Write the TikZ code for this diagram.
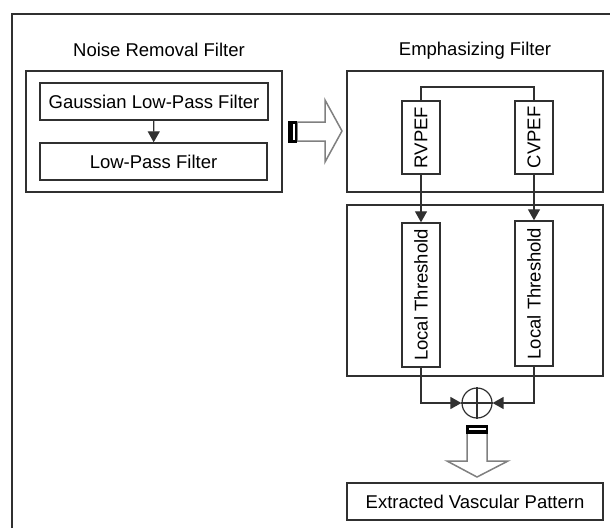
\documentclass[tikz,border=0pt]{standalone}
\usepackage{fontspec}
\setmainfont{Liberation Sans}
\usetikzlibrary{arrows.meta}
\definecolor{ln}{HTML}{303030}
\definecolor{fat}{HTML}{808080}
\tikzset{
  box/.style={draw=ln, line width=1.4pt, inner sep=0pt, font=\fontsize{18.5}{22}\selectfont},
  vbox/.style={box, minimum width=38pt},
  vtext/.style={rotate=90, font=\fontsize{18.5}{22}\selectfont, inner sep=0pt},
  conn/.style={draw=ln, line width=1.3pt},
  arr/.style={conn, -{Triangle[length=11pt,width=12pt]}},
  title/.style={font=\fontsize{18.5}{22}\selectfont, inner sep=0pt},
  fatarrow/.style={draw=fat, line width=1.5pt, fill=white, line join=miter},
}
\begin{document}
\begin{tikzpicture}[x=1pt,y=-1pt]
\useasboundingbox (0,0) rectangle (610,528);
% outer frame
\draw[ln, line width=2pt] (12,528) -- (12,14) -- (610,14);
% titles
\node[title] (t1) at (159,50) {Noise Removal Filter};
\node[title] (t2) at (475,51) {Emphasizing Filter};
% noise removal
\node[box, minimum width=256pt, minimum height=121pt] (noise) at (154,131.5) {};
\node[box, minimum width=228pt, minimum height=37pt] (gauss) at (154,101.5) {Gaussian Low-Pass Filter};
\node[box, minimum width=227pt, minimum height=37pt] (lpf) at (153.5,161.5) {Low-Pass Filter};
\draw[arr] (gauss) -- (lpf);
% emphasizing
\node[box, minimum width=256pt, minimum height=121pt] (emph) at (475,131.5) {};
\node[vbox, minimum height=73pt] (rv) at (421,137.5) {};
\node[vtext] (rvt) at (421,137.5) {RVPEF};
\node[vbox, minimum height=73pt] (cv) at (534,137.5) {};
\node[vtext] (cvt) at (534,137.5) {CVPEF};
\coordinate (top) at (421,87);
\draw[conn] (rv.north) -- (top) -| (cv.north);
% threshold
\node[box, minimum width=256pt, minimum height=171pt] (thr) at (475,290.5) {};
\node[vbox, minimum height=144pt] (lt1) at (421,295) {};
\node[vtext] (lt1t) at (421,295) {Local Threshold};
\node[vbox, minimum height=145pt] (lt2) at (534,293.5) {};
\node[vtext] (lt2t) at (534,293.5) {Local Threshold};
\draw[arr] (rv.south) -- (lt1.north);
\draw[arr] (cv.south) -- (lt2.north);
% sum
\node[circle, draw=ln, line width=1.2pt, minimum size=30pt, inner sep=0pt] (sum) at (477,403) {};
\draw[ln, line width=1.2pt] (sum.north) -- (sum.south) (sum.west) -- (sum.east);
\draw[arr] (lt1.south) |- (sum.west);
\draw[arr] (lt2.south) |- (sum.east);
% result
\node[box, minimum width=256pt, minimum height=37pt] (res) at (475,501.5) {Extracted Vascular Pattern};
% fat arrow right
\draw[fatarrow] (297,122) -- (325,122) -- (325,100) -- (342,131) -- (325,162) -- (325,141) -- (297,141) -- cycle;
\fill[black] (287.5,121) rectangle (297,143);
\fill[white] (292.5,124) rectangle (294.5,140);
% fat arrow down
\draw[fatarrow] (467,433) -- (467,461) -- (447,461) -- (477,477) -- (508,461) -- (487,461) -- (487,433) -- cycle;
\fill[black] (466,424.5) rectangle (488,433.5);
\fill[white] (468.5,427.5) rectangle (485.5,429.5);
\end{tikzpicture}
\end{document}
